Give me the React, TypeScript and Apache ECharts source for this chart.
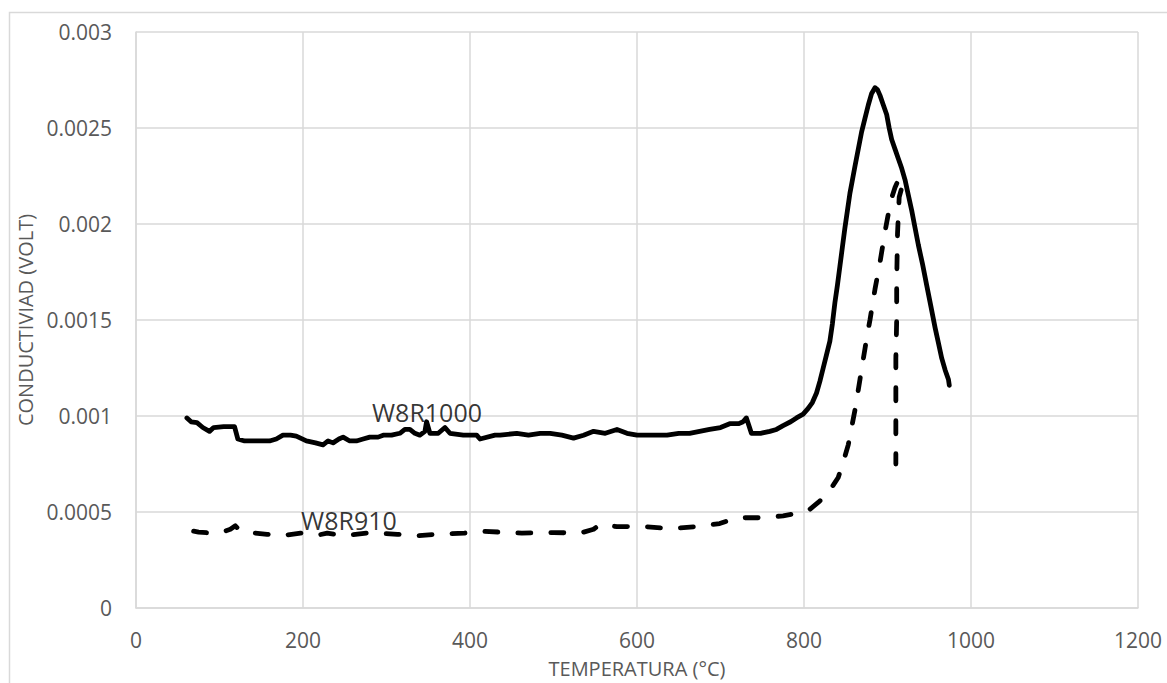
import React, { useEffect, useRef } from "react";
import * as echarts from "echarts";

// W8R1000 (solid)
const tempA: number[] = [61, 66, 73, 80, 88, 93, 105, 118, 122, 130, 137, 160, 168, 176, 185, 192, 204, 215, 224, 230, 236, 243, 248, 256, 264, 272, 280, 290, 296, 306, 316, 322, 328, 334, 340, 346, 348, 352, 362, 370, 376, 392, 408, 412, 430, 436, 456, 470, 484, 496, 510, 524, 536, 548, 562, 576, 588, 600, 620, 636, 650, 663, 675, 687, 700, 711, 722, 727, 731, 734, 737, 748, 759, 767, 775, 784, 791, 799, 805, 810, 815, 819, 823, 827, 831, 834, 837, 840, 843, 846, 849, 852, 855, 858, 861, 865, 869, 873, 877, 881, 885, 888, 891, 895, 899, 902, 905, 909, 913, 917, 921, 925, 929, 933, 937, 942, 947, 952, 957, 961, 965, 969, 973, 974];
const voltA: number[] = [0.00099, 0.00097, 0.000965, 0.00094, 0.00092, 0.00094, 0.000945, 0.000945, 0.00088, 0.00087, 0.00087, 0.00087, 0.00088, 0.0009, 0.0009, 0.000895, 0.00087, 0.00086, 0.00085, 0.00087, 0.00086, 0.00088, 0.00089, 0.00087, 0.00087, 0.00088, 0.00089, 0.00089, 0.0009, 0.0009, 0.00091, 0.00093, 0.00093, 0.00091, 0.0009, 0.00092, 0.00097, 0.00091, 0.00091, 0.00094, 0.00091, 0.0009, 0.0009, 0.00088, 0.0009, 0.0009, 0.00091, 0.0009, 0.00091, 0.00091, 0.0009, 0.000885, 0.0009, 0.00092, 0.00091, 0.00093, 0.00091, 0.0009, 0.0009, 0.0009, 0.00091, 0.00091, 0.00092, 0.00093, 0.00094, 0.00096, 0.00096, 0.00097, 0.00099, 0.00095, 0.00091, 0.00091, 0.00092, 0.00093, 0.00095, 0.00097, 0.00099, 0.00101, 0.00104, 0.00107, 0.00112, 0.00118, 0.00125, 0.00132, 0.00139, 0.00148, 0.00159, 0.00168, 0.00178, 0.00188, 0.00198, 0.00207, 0.00216, 0.00223, 0.0023, 0.00239, 0.00248, 0.00255, 0.00262, 0.00268, 0.00271, 0.0027, 0.00267, 0.00262, 0.00257, 0.0025, 0.00244, 0.00239, 0.00234, 0.00229, 0.00223, 0.00215, 0.00207, 0.00198, 0.00189, 0.00179, 0.00168, 0.00157, 0.00146, 0.00138, 0.0013, 0.00124, 0.00119, 0.00116];

// W8R910 (dashed)
const tempB: number[] = [69, 75, 91, 100, 113, 119, 125, 137, 157, 173, 197, 217, 229, 249, 281, 313, 337, 361, 393, 413, 437, 462, 500, 532, 548, 556, 576, 608, 640, 673, 699, 719, 747, 775, 799, 807, 817, 827, 835, 841, 847, 853, 857, 861, 864, 867, 870, 873, 876, 879, 882, 885, 888, 891, 894, 897, 900, 903, 906, 909, 912, 916, 919, 914, 912, 911, 911, 910, 910, 910, 910];
const voltB: number[] = [0.0004, 0.000395, 0.00039, 0.00039, 0.00041, 0.000428, 0.0004, 0.000393, 0.000384, 0.000376, 0.00039, 0.000379, 0.00039, 0.000376, 0.000393, 0.000384, 0.000376, 0.000384, 0.00039, 0.0004, 0.000395, 0.00039, 0.000393, 0.00039, 0.00041, 0.000436, 0.000424, 0.000424, 0.000414, 0.000424, 0.00044, 0.00047, 0.00047, 0.00048, 0.0005, 0.000514, 0.00055, 0.00059, 0.00064, 0.00068, 0.00076, 0.00085, 0.00094, 0.00103, 0.00111, 0.00119, 0.00127, 0.00135, 0.00143, 0.0015, 0.00158, 0.00166, 0.00173, 0.0018, 0.00188, 0.00196, 0.00203, 0.0021, 0.00215, 0.00219, 0.00222, 0.00224, 0.00222, 0.00214, 0.00195, 0.0017, 0.0015, 0.0013, 0.00114, 0.00094, 0.00075];

const seriesNames: string[] = ["W8R1000", "W8R910"];
const labelTemps: number[] = [348.5, 255];
const labelVolts: number[] = [0.00102, 0.000456];

const xTitle = "TEMPERATURA (°C)";
const yTitle = "CONDUCTIVIAD (VOLT)";

const FONT = "'Open Sans', 'Noto Sans', sans-serif";
const GRAY = "#595959";
const GRID = "#d9d9d9";

export default function App() {
  const ref = useRef<HTMLDivElement>(null);
  useEffect(() => {
    if (!ref.current) return;
    const chart = echarts.init(ref.current, null, { renderer: "svg" });
    const dataA = tempA.map((t, i) => [t, voltA[i]]);
    const dataB = tempB.map((t, i) => [t, voltB[i]]);
    chart.setOption({
      animation: false,
      backgroundColor: "#ffffff",
      textStyle: { fontFamily: FONT },
      grid: { left: 136, right: 29, top: 32, bottom: 75, containLabel: false, outerBoundsMode: "none" },
      graphic: [
        {
          type: "rect",
          left: 7,
          top: 10,
          shape: { x: 0, y: 0, width: 1300, height: 800 },
          style: { fill: "none", stroke: GRID, lineWidth: 1.5 },
          silent: true,
        },
      ],
      xAxis: {
        type: "value",
        min: 0,
        max: 1200,
        interval: 200,
        name: xTitle,
        nameLocation: "middle",
        nameGap: 50,
        nameTextStyle: { color: GRAY, fontSize: 20, fontFamily: FONT },
        axisLine: { show: true, lineStyle: { color: GRID, width: 1.5 } },
        axisTick: { show: false },
        axisLabel: {
          color: GRAY,
          fontSize: 21,
          margin: 21,
          fontFamily: FONT,
          formatter: (v: number) => String(v),
        },
        splitLine: { show: true, lineStyle: { color: GRID, width: 1.5 } },
      },
      yAxis: {
        type: "value",
        min: 0,
        max: 0.003,
        interval: 0.0005,
        name: yTitle,
        nameLocation: "middle",
        nameGap: 99,
        nameTextStyle: { color: GRAY, fontSize: 20, fontFamily: FONT },
        axisLine: { show: true, lineStyle: { color: GRID, width: 1.5 } },
        axisTick: { show: false },
        axisLabel: {
          color: GRAY,
          fontSize: 21,
          margin: 24,
          fontFamily: FONT,
          formatter: (v: number) => String(+v.toFixed(4)),
        },
        splitLine: { show: true, lineStyle: { color: GRID, width: 1.5 } },
      },
      series: [
        {
          name: seriesNames[0],
          type: "line",
          data: dataA,
          showSymbol: false,
          symbol: "none",
          lineStyle: { color: "#000", width: 4.8, cap: "round", join: "round" },
          z: 3,
        },
        {
          name: seriesNames[1],
          type: "line",
          data: dataB,
          showSymbol: false,
          symbol: "none",
          lineStyle: { color: "#000", width: 4.8, type: [13, 20], cap: "round", join: "round" },
          z: 3,
        },
        {
          type: "scatter",
          data: labelTemps.map((t, i) => ({ value: [t, labelVolts[i]], name: seriesNames[i] })),
          symbolSize: 1,
          itemStyle: { color: "rgba(0,0,0,0)" },
          silent: true,
          z: 5,
          label: {
            show: true,
            position: "inside",
            formatter: (p: any) => p.name,
            color: "#000",
            fontSize: 25,
            fontFamily: FONT,
          },
        },
      ],
    });
    return () => chart.dispose();
  }, []);
  return (
    <div
      ref={ref}
      style={{ position: "absolute", left: 0, top: 0, width: 1167, height: 683 }}
    />
  );
}
